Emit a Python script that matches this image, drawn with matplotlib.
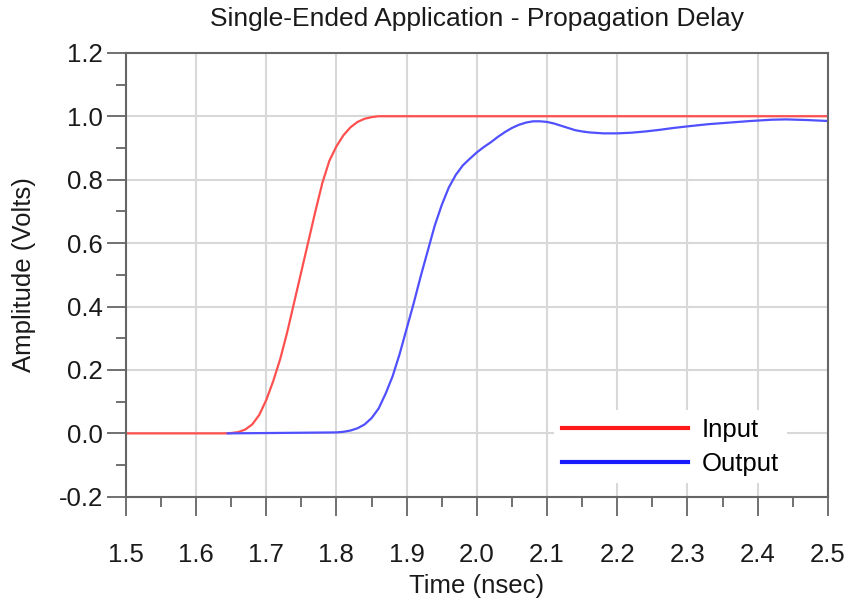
import matplotlib
matplotlib.use("Agg")
import matplotlib.pyplot as plt
from matplotlib.lines import Line2D
from matplotlib.ticker import MultipleLocator

plt.rcParams['font.family'] = ['Liberation Sans', 'DejaVu Sans']

# input edge (red)
t_in = [1.50, 1.60, 1.64, 1.65, 1.66, 1.67, 1.68, 1.69, 1.70, 1.71, 1.72, 1.73,
        1.74, 1.75, 1.76, 1.77, 1.78, 1.79, 1.80, 1.81, 1.82, 1.83, 1.84, 1.85,
        1.86, 1.90, 2.20, 2.50]
v_in = [0.0, 0.0, 0.0, 0.001, 0.004, 0.012, 0.028, 0.058, 0.105, 0.165, 0.235, 0.32,
        0.415, 0.51, 0.605, 0.70, 0.79, 0.86, 0.905, 0.94, 0.965, 0.982, 0.992, 0.997,
        1.0, 1.0, 1.0, 1.0]

# output edge (blue)
t_out = [1.645, 1.70, 1.75, 1.80, 1.81, 1.82, 1.83, 1.84, 1.85, 1.86, 1.87,
         1.88, 1.89, 1.90, 1.91, 1.92, 1.93, 1.94, 1.95, 1.96, 1.97, 1.98,
         1.99, 2.00, 2.01, 2.02, 2.03, 2.04, 2.05, 2.06, 2.07, 2.08, 2.09,
         2.10, 2.11, 2.12, 2.13, 2.14, 2.15, 2.16, 2.18, 2.20, 2.22, 2.24,
         2.26, 2.28, 2.30, 2.33, 2.36, 2.39, 2.42, 2.44, 2.47, 2.50]
v_out = [0.0, 0.001, 0.002, 0.003, 0.005, 0.009, 0.016, 0.028, 0.048, 0.078, 0.125,
         0.18, 0.25, 0.33, 0.41, 0.495, 0.575, 0.655, 0.72, 0.775, 0.815, 0.845,
         0.866, 0.886, 0.903, 0.918, 0.935, 0.95, 0.963, 0.973, 0.98, 0.984, 0.984,
         0.982, 0.977, 0.97, 0.963, 0.956, 0.952, 0.949, 0.946, 0.946, 0.948, 0.952,
         0.957, 0.963, 0.968, 0.975, 0.98, 0.985, 0.989, 0.990, 0.988, 0.985]

labels = ["Input", "Output"]

FS = 18.5
fig = plt.figure(figsize=(8.5, 6), dpi=100)
ax = fig.add_axes([0.148, 0.172, 0.826, 0.740])

ax.plot(t_in, v_in, color="#ff5050", lw=1.6, solid_joinstyle="round")
ax.plot(t_out, v_out, color="#5050ff", lw=1.6, solid_joinstyle="round")

ax.set_xlim(1.5, 2.5)
ax.set_ylim(-0.2, 1.2)
ax.xaxis.set_major_locator(MultipleLocator(0.1))
ax.xaxis.set_minor_locator(MultipleLocator(0.05))
ax.yaxis.set_major_locator(MultipleLocator(0.2))
ax.yaxis.set_minor_locator(MultipleLocator(0.1))
ax.xaxis.set_major_formatter(lambda v, p: f"{v:.1f}")
ax.yaxis.set_major_formatter(lambda v, p: f"{v:.1f}")

ax.grid(True, which="major", color="#d8d8d8", lw=1.5)
ax.set_axisbelow(True)
for s in ax.spines.values():
    s.set_color("#666666")
    s.set_linewidth(1.5)
ax.tick_params(which="major", length=13.5, width=1.3, color="#666666",
               labelsize=FS, labelcolor="#1a1a1a")
ax.tick_params(axis="y", which="major", pad=3)
ax.tick_params(axis="x", which="major", pad=20)
ax.tick_params(which="minor", length=7, width=1.3, color="#666666")

ax.set_title("Single-Ended Application - Propagation Delay", fontsize=19,
             pad=19, color="#1a1a1a")
ax.set_xlabel("Time (nsec)", fontsize=FS, labelpad=5, color="#1a1a1a")
ax.set_ylabel("Amplitude (Volts)", fontsize=FS, labelpad=16, color="#1a1a1a")

handles = [Line2D([], [], color="#ff1a1a", lw=3),
           Line2D([], [], color="#1a1aff", lw=3)]
leg = ax.legend(handles, labels, loc="lower left", bbox_to_anchor=(0.61, 0.03),
                fontsize=FS, frameon=True, fancybox=False, framealpha=1,
                facecolor="white", edgecolor="none", handlelength=4.9,
                handletextpad=0.55, labelspacing=0.38, borderpad=0.3,
                borderaxespad=0)

fig.savefig("out.png", dpi=100)
